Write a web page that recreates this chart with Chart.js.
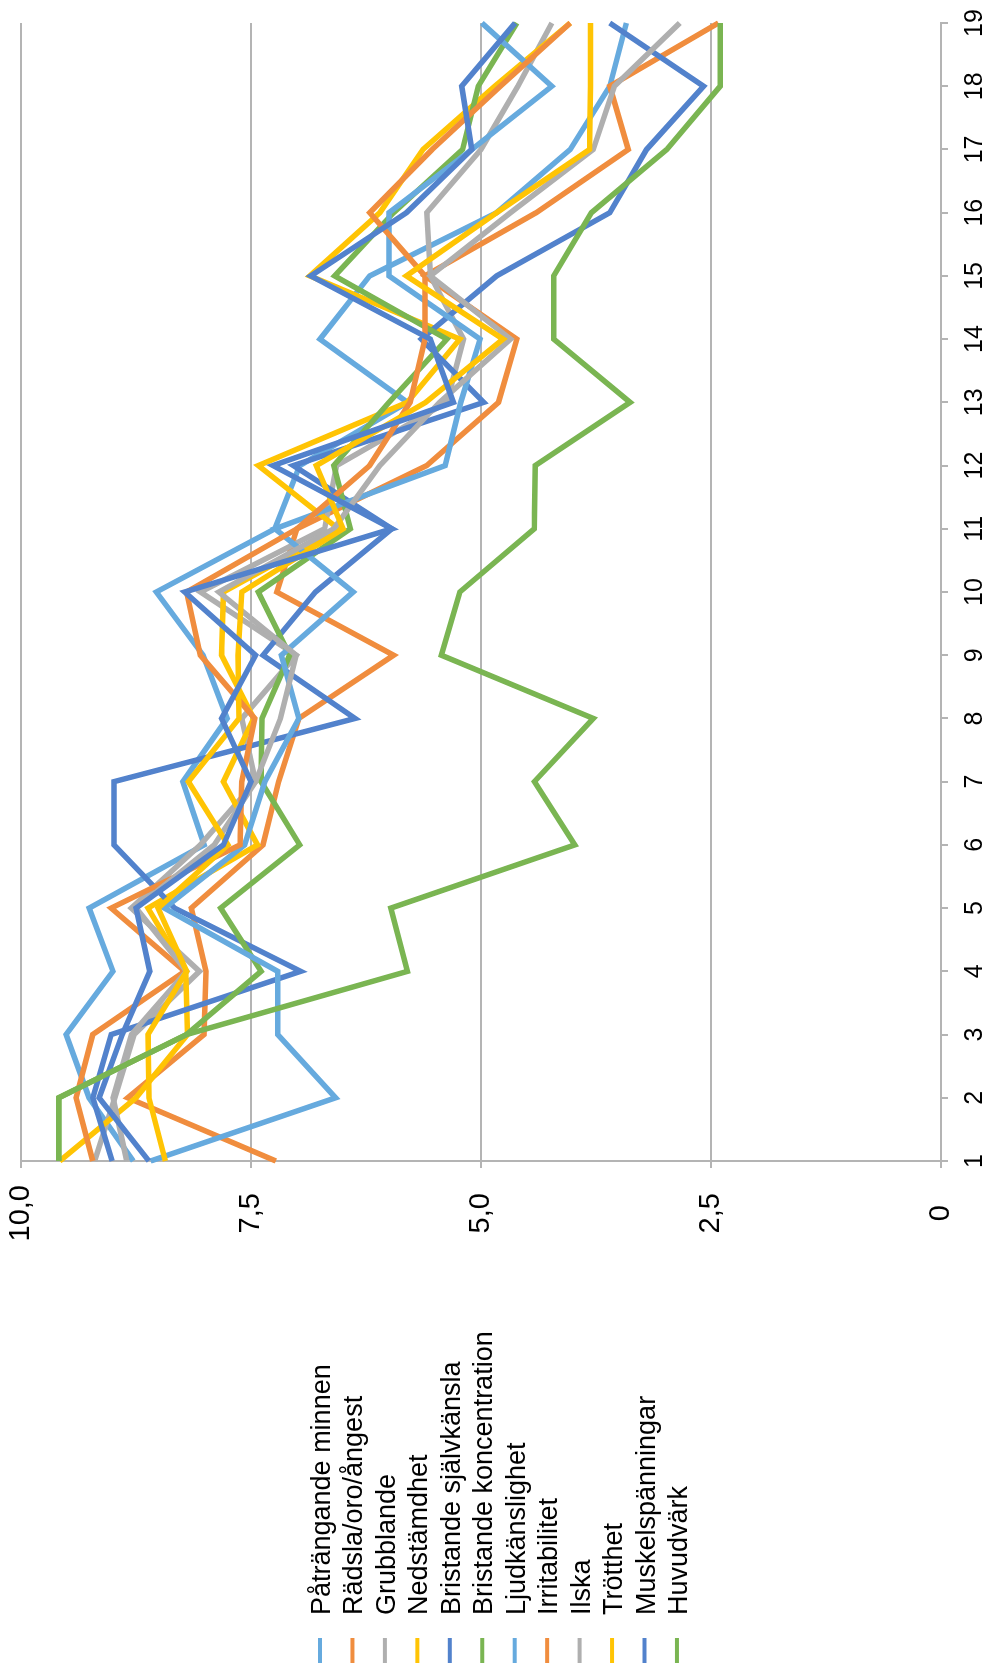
<!DOCTYPE html>
<html>
<head>
<meta charset="utf-8">
<script src="https://cdn.jsdelivr.net/npm/chart.js@4.4.1/dist/chart.umd.min.js"></script>
<style>
  html, body { margin: 0; padding: 0; background: #ffffff; overflow: hidden; width: 994px; height: 1668px; }
  /* The chart is laid out landscape and turned a quarter turn counter-clockwise onto the portrait page */
  #wrap { position: absolute; left: 0; top: 0; width: 1668px; height: 994px;
          transform-origin: 0 0; transform: translateY(1668px) rotate(-90deg); }
  canvas { display: block; }
</style>
</head>
<body>
<div id="wrap"><canvas id="chart" width="1668" height="994"></canvas></div>
<script>
// Categories (measurement occasions) and value-axis ticks
const categories = ['1','2','3','4','5','6','7','8','9','10','11','12','13','14','15','16','17','18','19'];
const valueTicks = [0, 2.5, 5, 7.5, 10];

// Series labels and colours
const seriesNames = [
  'Påträngande minnen', 'Rädsla/oro/ångest', 'Grubblande', 'Nedstämdhet',
  'Bristande självkänsla', 'Bristande koncentration', 'Ljudkänslighet', 'Irritabilitet',
  'Ilska', 'Trötthet', 'Muskelspänningar', 'Huvudvärk'
];
const seriesColors = [
  '#66aade', '#f08d3e', '#afafaf', '#ffc404',
  '#5282cc', '#7ab552', '#66aade', '#f08d3e',
  '#afafaf', '#ffc404', '#5282cc', '#7ab552'
];

// Series values
const paatrangandeMinnen     = [8.78, 9.26, 9.51, 9.00, 9.26, 8.01, 8.24, 7.76, 8.02, 8.53, 7.24, 6.97, 5.80, 6.75, 6.21, 4.83, 4.03, 3.60, 3.42];
const radslaOroAngest        = [7.23, 8.84, 8.01, 7.99, 8.15, 7.37, 7.20, 6.98, 5.95, 7.22, 7.00, 5.59, 4.81, 4.61, 5.61, 4.40, 3.40, 3.60, 2.42];
const grubblande             = [9.20, 8.98, 8.77, 8.06, 8.80, 8.05, 7.45, 7.60, 7.01, 8.05, 6.70, 6.57, 5.37, 5.19, 5.55, 5.59, 5.00, 4.60, 4.23];
const nedstamdhet            = [9.58, 8.75, 8.19, 8.21, 8.62, 7.43, 7.80, 7.47, 7.82, 7.80, 6.55, 7.42, 5.80, 5.23, 6.86, 6.10, 5.63, 4.85, 4.03];
const bristandeSjalvkansla   = [9.01, 9.22, 9.02, 6.96, 8.33, 8.99, 8.99, 6.37, 7.37, 6.80, 5.97, 7.04, 4.97, 5.65, 4.83, 3.60, 3.20, 2.58, 3.60];
const bristandeKoncentration = [9.59, 9.59, 8.20, 7.39, 7.83, 6.97, 7.39, 7.38, 7.08, 7.42, 6.42, 6.60, 6.00, 5.37, 6.59, 5.95, 5.20, 5.03, 4.61];
const ljudkanslighet         = [8.59, 6.58, 7.21, 7.21, 8.44, 7.57, 7.35, 6.98, 7.17, 6.39, 7.24, 5.39, 5.22, 5.01, 6.00, 6.00, 5.10, 4.23, 4.99];
const irritabilitet          = [9.22, 9.40, 9.22, 8.22, 9.02, 7.62, 7.60, 7.46, 8.05, 8.20, 7.00, 6.21, 5.77, 5.61, 5.61, 6.21, 5.53, 4.79, 4.03];
const ilska                  = [8.85, 9.00, 8.80, 8.20, 8.75, 7.90, 7.45, 7.18, 7.01, 7.85, 6.60, 6.10, 5.45, 4.68, 5.55, 4.68, 3.78, 3.55, 2.84];
const trotthet               = [8.43, 8.61, 8.62, 8.20, 8.51, 7.75, 8.18, 7.63, 7.64, 7.60, 6.50, 6.79, 5.60, 4.76, 5.81, 4.83, 3.82, 3.81, 3.81];
const muskelspanningar       = [8.61, 9.15, 8.90, 8.60, 8.75, 7.80, 7.50, 7.82, 7.45, 8.22, 5.97, 7.26, 5.30, 5.55, 6.85, 5.81, 5.10, 5.21, 4.63];
const huvudvark              = [9.59, 9.59, 8.20, 5.80, 5.98, 3.98, 4.42, 3.78, 5.43, 5.23, 4.42, 4.41, 3.38, 4.21, 4.21, 3.80, 2.98, 2.40, 2.40];

const seriesValues = [
  paatrangandeMinnen, radslaOroAngest, grubblande, nedstamdhet,
  bristandeSjalvkansla, bristandeKoncentration, ljudkanslighet, irritabilitet,
  ilska, trotthet, muskelspanningar, huvudvark
];

const FONT = '"Liberation Sans", Arial, Helvetica, sans-serif';
const AXIS_GREY = '#b4b4b4';

// Legend stacked down the left side: short line swatch followed by the series name
const sideLegend = {
  id: 'sideLegend',
  afterDraw(chart) {
    const ctx = chart.ctx;
    ctx.save();
    ctx.font = '27px ' + FONT;
    ctx.textBaseline = 'alphabetic';
    ctx.textAlign = 'left';
    chart.data.datasets.forEach((ds, i) => {
      const base = 330 + i * 32.45;
      ctx.strokeStyle = ds.borderColor;
      ctx.lineWidth = 4;
      ctx.lineCap = 'butt';
      ctx.beginPath();
      ctx.moveTo(5, base - 10);
      ctx.lineTo(30, base - 10);
      ctx.stroke();
      ctx.fillStyle = '#000000';
      ctx.fillText(ds.label, 53, base);
    });
    ctx.restore();
  }
};

const datasets = seriesNames.map((name, i) => ({
  label: name,
  data: seriesValues[i],
  borderColor: seriesColors[i],
  backgroundColor: seriesColors[i],
  borderWidth: 5.5,
  borderJoinStyle: 'miter',
  borderCapStyle: 'butt',
  pointRadius: 0,
  pointHoverRadius: 0,
  tension: 0,
  fill: false,
  order: seriesNames.length - 1 - i
}));

new Chart(document.getElementById('chart'), {
  type: 'line',
  data: { labels: categories, datasets },
  options: {
    responsive: false,
    animation: false,
    devicePixelRatio: 1,
    layout: { padding: { top: 21, right: 23, bottom: 0, left: 0 } },
    plugins: {
      legend: { display: false },
      tooltip: { enabled: false },
      title: { display: false }
    },
    scales: {
      x: {
        type: 'category',
        offset: false,
        afterFit(scale) {
          scale.height = 53;
          scale.paddingLeft = 0;
          scale.paddingRight = 0;
        },
        grid: {
          display: true,
          drawOnChartArea: false,
          drawTicks: true,
          tickLength: 7,
          color: AXIS_GREY,
          lineWidth: 2
        },
        border: { display: true, color: AXIS_GREY, width: 2 },
        ticks: {
          color: '#000000',
          font: { family: FONT, size: 25 },
          padding: 12,
          maxRotation: 0,
          autoSkip: false
        }
      },
      y: {
        min: 0,
        max: 10,
        afterFit(scale) {
          scale.width = 507;
          scale.paddingTop = 0;
          scale.paddingBottom = 0;
        },
        afterBuildTicks(scale) { scale.ticks = valueTicks.map(v => ({ value: v })); },
        grid: {
          display: true,
          drawOnChartArea: true,
          drawTicks: true,
          tickLength: 7,
          color: AXIS_GREY,
          lineWidth: 2
        },
        border: { display: true, color: AXIS_GREY, width: 2 },
        ticks: {
          color: '#000000',
          font: { family: FONT, size: 29 },
          padding: 17,
          crossAlign: 'center',
          callback(v) { return v === 0 ? '0' : v.toFixed(1).replace('.', ','); }
        }
      }
    }
  },
  plugins: [sideLegend]
});
</script>
</body>
</html>
